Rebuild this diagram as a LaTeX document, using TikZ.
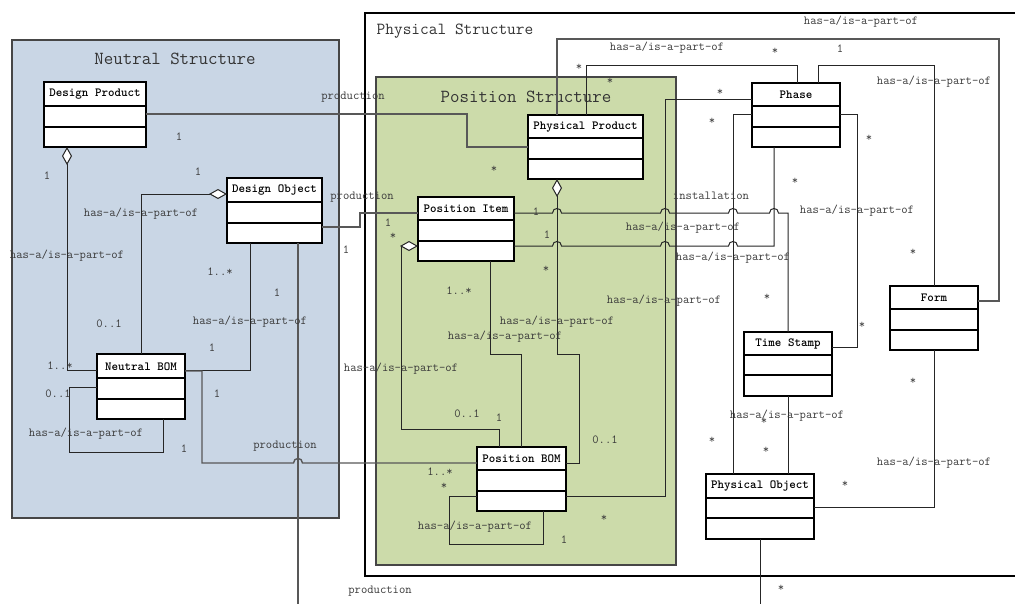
\documentclass[tikz,border=0pt]{standalone}
\usepackage{fontspec}
\usetikzlibrary{arrows.meta,fit}

\definecolor{neutralfill}{RGB}{201,214,229}
\definecolor{positionfill}{RGB}{204,219,170}
\definecolor{linedark}{RGB}{38,38,38}
\definecolor{linegrey}{RGB}{88,88,88}
\definecolor{labelgrey}{RGB}{58,58,58}
\definecolor{framegrey}{RGB}{70,70,70}

\tikzset{
  classbox/.style={draw=black, fill=white, line width=1.2pt, inner sep=0pt, outer sep=0pt},
  classrule/.style={draw=black, line width=1.2pt},
  classtitle/.style={font=\ttfamily\bfseries\fontsize{12.4}{13}\selectfont, inner sep=0pt, text=black},
  conn/.style={draw=linedark, line width=1pt},
  prod/.style={draw=linegrey, line width=1.4pt},
  agg/.style={{Diamond[fill=white, length=18pt, width=10pt, line width=1pt]}-},
  lbl/.style={font=\ttfamily\fontsize{12.3}{13}\selectfont, text=labelgrey, inner sep=0pt},
  region/.style={draw=framegrey, line width=1.4pt, inner sep=0pt, outer sep=0pt},
  regiontitle/.style={font=\ttfamily\fontsize{18.4}{20}\selectfont, text=labelgrey!90!black, inner sep=0pt},
}

% UML class: name, x1, y1, x2, y2, first rule, second rule, title
\newcommand{\umlclass}[8]{%
  \node[classbox, fit={(#2,#3) (#4,#5)}] (#1) {};
  \draw[classrule] (#2,#6) -- (#4,#6) (#2,#7) -- (#4,#7);
  \node[classtitle] (#1t) at ({(#2+#4)/2},{(#3+#6)/2+0.5}) {#8};
}

\begin{document}
\begin{tikzpicture}[x=1pt,y=-1pt]
\useasboundingbox (0,0) rectangle (1015,603);
\clip (0,0) rectangle (1015,603);
\fill[white] (0,0) rectangle (1015,603);

% structure regions
\node[region, draw=black, line width=1.1pt, fill=white, fit={(365,13) (1040,576)}] (phys) {};
\node[region, fill=neutralfill, fit={(12,40) (339,518)}] (neut) {};
\node[region, fill=positionfill, fit={(376,77) (676,565)}] (posn) {};
\node[regiontitle] (neutT) at (175,59) {Neutral Structure};
\node[regiontitle, font=\ttfamily\fontsize{16.9}{18}\selectfont] (physT) at (455,31) {Physical Structure};
\node[regiontitle] (posnT) at (526,97) {Position Structure};

% classes
\umlclass{dp}{44}{82}{146}{147}{106}{127}{Design Product}
\umlclass{do}{227}{178}{322}{243}{202}{223}{Design Object}
\umlclass{nb}{97}{354}{185}{419}{378}{399}{Neutral BOM}
\umlclass{pp}{528}{115}{643}{179}{138}{159}{Physical Product}
\umlclass{pi}{418}{197}{514}{261}{220}{241}{Position Item}
\umlclass{pb}{477}{447}{566}{511}{470}{491}{Position BOM}
\umlclass{ph}{752}{83}{840}{147}{106}{127}{Phase}
\umlclass{ts}{744}{332}{832}{396}{355}{375}{Time Stamp}
\umlclass{fm}{890}{286}{978}{350}{309}{330}{Form}
\umlclass{po}{706}{474}{814}{539}{498}{518}{Physical Object}

\coordinate (doEnd) at (298,612);
\coordinate (poEnd) at (760,612);

% neutral structure links
\draw[prod] (dp.east |- 0,114) -- (467,114) -- (467,147) -- (pp.west |- 0,147);
\draw[prod] (do.east |- 0,227) -- (360,227) -- (360,213) -- (pi.west |- 0,213);
\draw[conn, agg] (dp.south -| 67,0) -- (67,370) -- (nb.west |- 0,370);
\draw[conn, agg] (do.west |- 0,194) -- (141,194) -- (nb.north -| 141,0);
\draw[conn] (do.south -| 250,0) -- (250,370) -- (nb.east |- 0,370);
\draw[conn] (nb.west |- 0,387) -- (69,387) -- (69,452) -- (163,452) -- (nb.south -| 163,0);
\draw[prod] (do.south -| 298,0) -- (doEnd);
\draw[prod] (nb.east |- 0,371) -- (202,371) -- (202,463) -- (293.5,463)
  .. controls (293.5,457) and (302.5,457) .. (302.5,463) -- (pb.west |- 0,463);

% position structure links
\draw[conn, agg] (pp.south -| 557,0) -- (557,354) -- (579,354) -- (579,463) -- (pb.east |- 0,463);
\draw[conn] (pi.south -| 490,0) -- (490,354) -- (521,354) -- (pb.north -| 521,0);
\draw[conn, agg] (pi.west |- 0,246) -- (401,246) -- (401,429) -- (499,429) -- (pb.north -| 499,0);
\draw[conn] (pb.west |- 0,496) -- (449,496) -- (449,544) -- (543,544) -- (pb.south -| 543,0);
\draw[conn] (pb.east |- 0,496) -- (665,496) -- (665,99) -- (ph.west |- 0,99);

% physical structure links
\draw[prod] (pp.north -| 557,0) -- (557,39) -- (999,39) -- (999,301) -- (fm.east |- 0,301);
\draw[conn] (pp.north -| 586,0) -- (586,65) -- (797,65) -- (ph.north -| 797,0);
\draw[conn] (ph.north -| 818,0) -- (818,65) -- (934,65) -- (fm.north -| 934,0);
\draw[conn] (fm.south -| 934,0) -- (934,507) -- (po.east |- 0,507);
\draw[conn] (ph.west |- 0,114) -- (733,114) -- (po.north -| 733,0);
\draw[conn] (ph.east |- 0,114) -- (857,114) -- (857,347) -- (ts.east |- 0,347);
\draw[conn] (ts.south -| 788,0) -- (po.north -| 788,0);
\draw[conn] (po.south -| 760,0) -- (poEnd);
\draw[conn] (pi.east |- 0,246)
  -- (552.5,246) .. controls (552.5,240) and (561.5,240) .. (561.5,246)
  -- (660.5,246) .. controls (660.5,240) and (669.5,240) .. (669.5,246)
  -- (728.5,246) .. controls (728.5,240) and (737.5,240) .. (737.5,246)
  -- (774,246) -- (ph.south -| 774,0);
\draw[conn] (pi.east |- 0,213)
  -- (552.5,213) .. controls (552.5,207) and (561.5,207) .. (561.5,213)
  -- (660.5,213) .. controls (660.5,207) and (669.5,207) .. (669.5,213)
  -- (728.5,213) .. controls (728.5,207) and (737.5,207) .. (737.5,213)
  -- (769.5,213) .. controls (769.5,207) and (778.5,207) .. (778.5,213)
  -- (788,213) -- (ts.north -| 788,0);

% labels: neutral structure
\node[lbl] (a1) at (353,97) {production};
\node[lbl] (a2) at (179,137) {1};
\node[lbl] (a3) at (494,169) {*};
\node[lbl] (a4) at (362,197) {production};
\node[lbl] (a5) at (346,250) {1};
\node[lbl] (a6) at (388,223) {1};
\node[lbl] (a7) at (47,176) {1};
\node[lbl] (a8) at (67,256) {has-a/is-a-part-of};
\node[lbl] (a9) at (60,366) {1..*};
\node[lbl] (a10) at (198,172) {1};
\node[lbl] (a11) at (141,214) {has-a/is-a-part-of};
\node[lbl] (a12) at (109,324) {0..1};
\node[lbl] (a13) at (220,272) {1..*};
\node[lbl] (a14) at (277,293) {1};
\node[lbl] (a15) at (250,322) {has-a/is-a-part-of};
\node[lbl] (a16) at (212,348) {1};
\node[lbl] (a17) at (217,394) {1};
\node[lbl] (a18) at (184,449) {1};
\node[lbl] (a19) at (285,446) {production};
\node[lbl] (a20) at (58,394) {0..1};
\node[lbl] (a21) at (86,434) {has-a/is-a-part-of};
\node[lbl] (a22) at (380,591) {production};

% labels: position structure
\node[lbl] (b1) at (393,236) {*};
\node[lbl] (b2) at (440,472) {1..*};
\node[lbl] (b3) at (444,486) {*};
\node[lbl] (b4) at (546,269) {*};
\node[lbl] (b5) at (557,322) {has-a/is-a-part-of};
\node[lbl] (b6) at (605,440) {0..1};
\node[lbl] (b7) at (459,291) {1..*};
\node[lbl] (b8) at (505,337) {has-a/is-a-part-of};
\node[lbl] (b9) at (499,418) {1};
\node[lbl] (b10) at (401,369) {has-a/is-a-part-of};
\node[lbl] (b11) at (467,414) {0..1};
\node[lbl] (b12) at (475,527) {has-a/is-a-part-of};
\node[lbl] (b13) at (564,540) {1};
\node[lbl] (b14) at (604,518) {*};
\node[lbl] (b15) at (664,301) {has-a/is-a-part-of};
\node[lbl] (b16) at (547,235) {1};
\node[lbl] (b17) at (536,212) {1};

% labels: physical structure
\node[lbl] (c1) at (720,92) {*};
\node[lbl] (c2) at (861,22) {has-a/is-a-part-of};
\node[lbl] (c3) at (840,49) {1};
\node[lbl] (c4) at (934,82) {has-a/is-a-part-of};
\node[lbl] (c5) at (913,252) {*};
\node[lbl] (c6) at (913,381) {*};
\node[lbl] (c7) at (934,463) {has-a/is-a-part-of};
\node[lbl] (c8) at (845,484) {*};
\node[lbl] (c9) at (579,67) {*};
\node[lbl] (c10) at (610,81) {*};
\node[lbl] (c11) at (667,48) {has-a/is-a-part-of};
\node[lbl] (c12) at (775,51) {*};
\node[lbl] (c13) at (712,121) {*};
\node[lbl] (c14) at (712,440) {*};
\node[lbl] (c15) at (733,258) {has-a/is-a-part-of};
\node[lbl] (c16) at (795,181) {*};
\node[lbl] (c17) at (683,228) {has-a/is-a-part-of};
\node[lbl] (c18) at (711,196) {installation};
\node[lbl] (c19) at (767,297) {*};
\node[lbl] (c20) at (869,138) {*};
\node[lbl] (c21) at (857,211) {has-a/is-a-part-of};
\node[lbl] (c22) at (862,325) {*};
\node[lbl] (c23) at (787,416) {has-a/is-a-part-of};
\node[lbl] (c24) at (764,421) {*};
\node[lbl] (c25) at (766,450) {*};
\node[lbl] (c26) at (781,588) {*};
\end{tikzpicture}
\end{document}
